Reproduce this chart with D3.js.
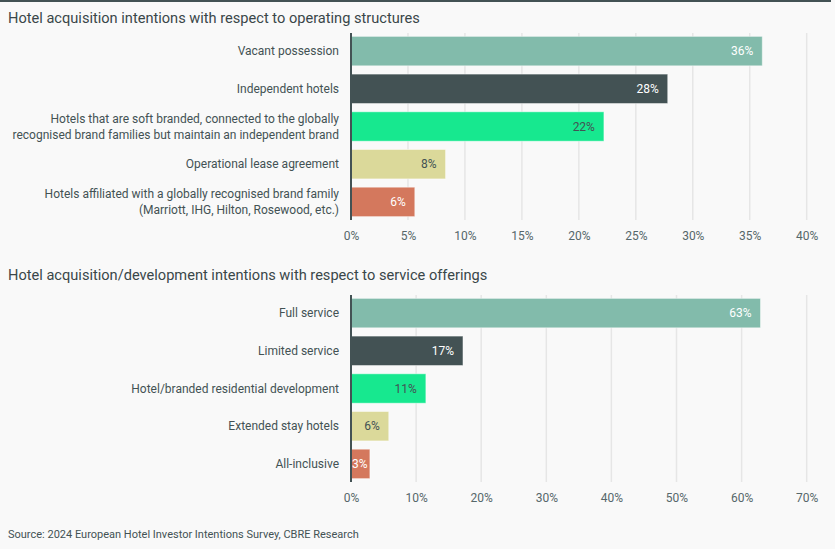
<!DOCTYPE html>
<html>
<head>
<meta charset="utf-8">
<script src="https://cdn.jsdelivr.net/npm/d3@7"></script>
<style>
  body { margin: 0; background: #f9f9f9; }
  text { font-family: Roboto, "Noto Sans", sans-serif; }
</style>
</head>
<body>
<div id="chart"></div>
<script>
// data
var structureLabels = [
    ["Vacant possession"],
    ["Independent hotels"],
    ["Hotels that are soft branded, connected to the globally", "recognised brand families but maintain an independent brand"],
    ["Operational lease agreement"],
    ["Hotels affiliated with a globally recognised brand family", "(Marriott, IHG, Hilton, Rosewood, etc.)"]
];
var structureValues = [36.1, 27.8, 22.2, 8.3, 5.6];
var structureText = ["36%", "28%", "22%", "8%", "6%"];
var structureTicks = [0, 5, 10, 15, 20, 25, 30, 35, 40];

var serviceLabels = [
    ["Full service"],
    ["Limited service"],
    ["Hotel/branded residential development"],
    ["Extended stay hotels"],
    ["All-inclusive"]
];
var serviceValues = [62.9, 17.2, 11.5, 5.8, 2.9];
var serviceText = ["63%", "17%", "11%", "6%", "3%"];
var serviceTicks = [0, 10, 20, 30, 40, 50, 60, 70];

var barColors = ["#82bbab", "#435254", "#17e88f", "#dbd99a", "#d4785d"];
var labelColors = ["#ffffff", "#ffffff", "#435254", "#435254", "#ffffff"];

var W = 835, H = 549;
var ink = "#435254";

var svg = d3.select("#chart")
    .append("svg")
    .attr("width", W)
    .attr("height", H);

svg.append("rect").attr("width", W).attr("height", H).attr("fill", "#f9f9f9");

// dark rule across the top
svg.append("line")
    .attr("x1", 0).attr("x2", 831)
    .attr("y1", 1).attr("y2", 1)
    .attr("stroke", "#435254").attr("stroke-width", 2);

function drawPanel(opts) {
    var g = svg.append("g");
    var n = opts.values.length;

    g.append("text")
        .attr("x", 8).attr("y", opts.titleY)
        .attr("fill", "#3a4749")
        .style("font-size", "14.6px")
        .text(opts.title);

    var x = d3.scaleLinear().domain([0, opts.max]).range([351, 806.7]);
    var y = d3.scaleBand().domain(d3.range(n)).range(opts.yRange)
        .paddingInner(0.22).paddingOuter(0.09);

    // gridlines
    g.selectAll(".grid")
        .data(opts.ticks.slice(1))
        .enter().append("line")
        .attr("x1", function(d) { return x(d); })
        .attr("x2", function(d) { return x(d); })
        .attr("y1", opts.yRange[0]).attr("y2", opts.yRange[1])
        .attr("stroke", "#e6e6e6").attr("stroke-width", 1.5);

    // tick labels
    var axis = g.append("g")
        .attr("transform", "translate(0," + (opts.yRange[1] + 11) + ")")
        .call(d3.axisBottom(x).tickValues(opts.ticks)
            .tickFormat(function(d) { return d + "%"; })
            .tickSize(0).tickPadding(0));
    axis.select(".domain").remove();
    axis.selectAll("text")
        .attr("fill", "#56676a")
        .attr("dy", "0.71em")
        .style("font-size", "12px")
        .style("font-family", "Roboto, 'Noto Sans', sans-serif");

    // bars
    g.selectAll(".bar")
        .data(opts.values)
        .enter().append("rect")
        .attr("x", x(0))
        .attr("y", function(d, i) { return y(i); })
        .attr("width", function(d) { return x(d) - x(0); })
        .attr("height", y.bandwidth())
        .attr("fill", function(d, i) { return barColors[i]; })
        .attr("stroke", "rgba(255,255,255,0.45)")
        .attr("stroke-width", 1);

    // value labels
    var vals = g.selectAll(".val")
        .data(opts.values)
        .enter().append("text")
        .attr("y", function(d, i) { return y(i) + y.bandwidth() / 2; })
        .attr("dy", "0.35em")
        .attr("text-anchor", "end")
        .attr("fill", function(d, i) { return labelColors[i]; })
        .style("font-size", "12px")
        .text(function(d, i) { return opts.text[i]; });
    vals.attr("x", function(d) {
        var w = this.getComputedTextLength();
        return Math.max(x(d) - 9, x(0) + w + 1);
    });

    // category labels
    var cats = g.selectAll(".cat")
        .data(opts.labels)
        .enter().append("text")
        .attr("text-anchor", "end")
        .attr("fill", ink)
        .style("font-size", "12px")
        .attr("y", function(d, i) { return y(i) + y.bandwidth() / 2; });
    cats.selectAll("tspan")
        .data(function(d) { return d; })
        .enter().append("tspan")
        .attr("x", 339)
        .attr("dy", function(d, j, nodes) {
            var lines = nodes.length;
            if (j === 0) return (0.35 - (lines - 1) * 0.67) + "em";
            return "1.34em";
        })
        .text(function(d) { return d; });

    // axis line
    g.append("line")
        .attr("x1", x(0)).attr("x2", x(0))
        .attr("y1", opts.yRange[0]).attr("y2", opts.yRange[1])
        .attr("stroke", ink).attr("stroke-width", 2);
}

drawPanel({
    title: "Hotel acquisition intentions with respect to operating structures",
    titleY: 23,
    labels: structureLabels,
    values: structureValues,
    text: structureText,
    ticks: structureTicks,
    max: 40,
    yRange: [33, 220]
});

drawPanel({
    title: "Hotel acquisition/development intentions with respect to service offerings",
    titleY: 280,
    labels: serviceLabels,
    values: serviceValues,
    text: serviceText,
    ticks: serviceTicks,
    max: 70,
    yRange: [295, 482]
});

svg.append("text")
    .attr("x", 8).attr("y", 538)
    .attr("fill", ink)
    .style("font-size", "11px")
    .text("Source: 2024 European Hotel Investor Intentions Survey, CBRE Research");
</script>
</body>
</html>
